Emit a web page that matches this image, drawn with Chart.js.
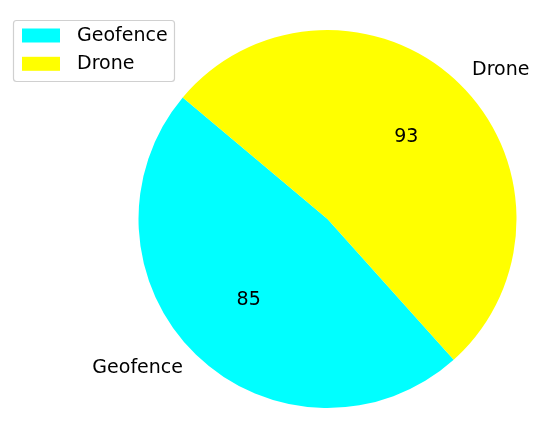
<!DOCTYPE html>
<html>
<head>
<meta charset="utf-8">
<script src="https://cdn.jsdelivr.net/npm/chart.js@4"></script>
<style>
  html, body { margin: 0; padding: 0; background: #fff; }
  canvas { display: block; }
</style>
</head>
<body>
<canvas id="pieChart" width="550" height="429"></canvas>
<script>
// Chart data
const labels = ["Geofence", "Drone"];
const values = [85, 93];
const colors = ["#00ffff", "#ffff00"];

const FONT = "19px 'DejaVu Sans', sans-serif";

// Slice labels (outside) and values (inside), like matplotlib's pie
const sliceText = {
  id: "sliceText",
  afterDatasetsDraw(chart) {
    const ctx = chart.ctx;
    const meta = chart.getDatasetMeta(0);
    ctx.save();
    ctx.font = FONT;
    ctx.fillStyle = "#000";
    ctx.textBaseline = "middle";
    meta.data.forEach((arc, i) => {
      const mid = (arc.startAngle + arc.endAngle) / 2;
      const r = arc.outerRadius;
      const cx = Math.cos(mid), cy = Math.sin(mid);
      // value at 0.6 r
      ctx.textAlign = "center";
      ctx.fillText(String(values[i]), arc.x + cx * r * 0.6, arc.y + cy * r * 0.6);
      // label at 1.1 r
      ctx.textAlign = cx >= 0 ? "left" : "right";
      ctx.fillText(labels[i], arc.x + cx * r * 1.1, arc.y + cy * r * 1.1);
    });
    ctx.restore();
  }
};

// Legend box at top left
const boxLegend = {
  id: "boxLegend",
  afterDraw(chart) {
    const ctx = chart.ctx;
    ctx.save();
    ctx.fillStyle = "rgba(255,255,255,0.8)";
    ctx.strokeStyle = "#d0d0d0";
    ctx.lineWidth = 1.2;
    ctx.beginPath();
    ctx.roundRect(13.5, 20.5, 161, 61, 3);
    ctx.fill();
    ctx.stroke();
    ctx.font = FONT;
    ctx.textAlign = "left";
    ctx.textBaseline = "middle";
    labels.forEach((lab, i) => {
      const y = 28.5 + i * 28.3;
      ctx.fillStyle = colors[i];
      ctx.fillRect(22, y, 38, 14);
      ctx.fillStyle = "#000";
      ctx.fillText(lab, 77, y + 7.5);
    });
    ctx.restore();
  }
};

new Chart(document.getElementById("pieChart"), {
  type: "pie",
  data: {
    labels: labels,
    datasets: [{
      data: values,
      backgroundColor: colors,
      borderWidth: 0
    }]
  },
  options: {
    responsive: false,
    animation: false,
    rotation: 138.1,
    layout: { padding: { left: 138.5, right: 33.5, top: 30, bottom: 21 } },
    plugins: {
      legend: { display: false },
      tooltip: { enabled: false }
    }
  },
  plugins: [sliceText, boxLegend]
});
</script>
</body>
</html>
